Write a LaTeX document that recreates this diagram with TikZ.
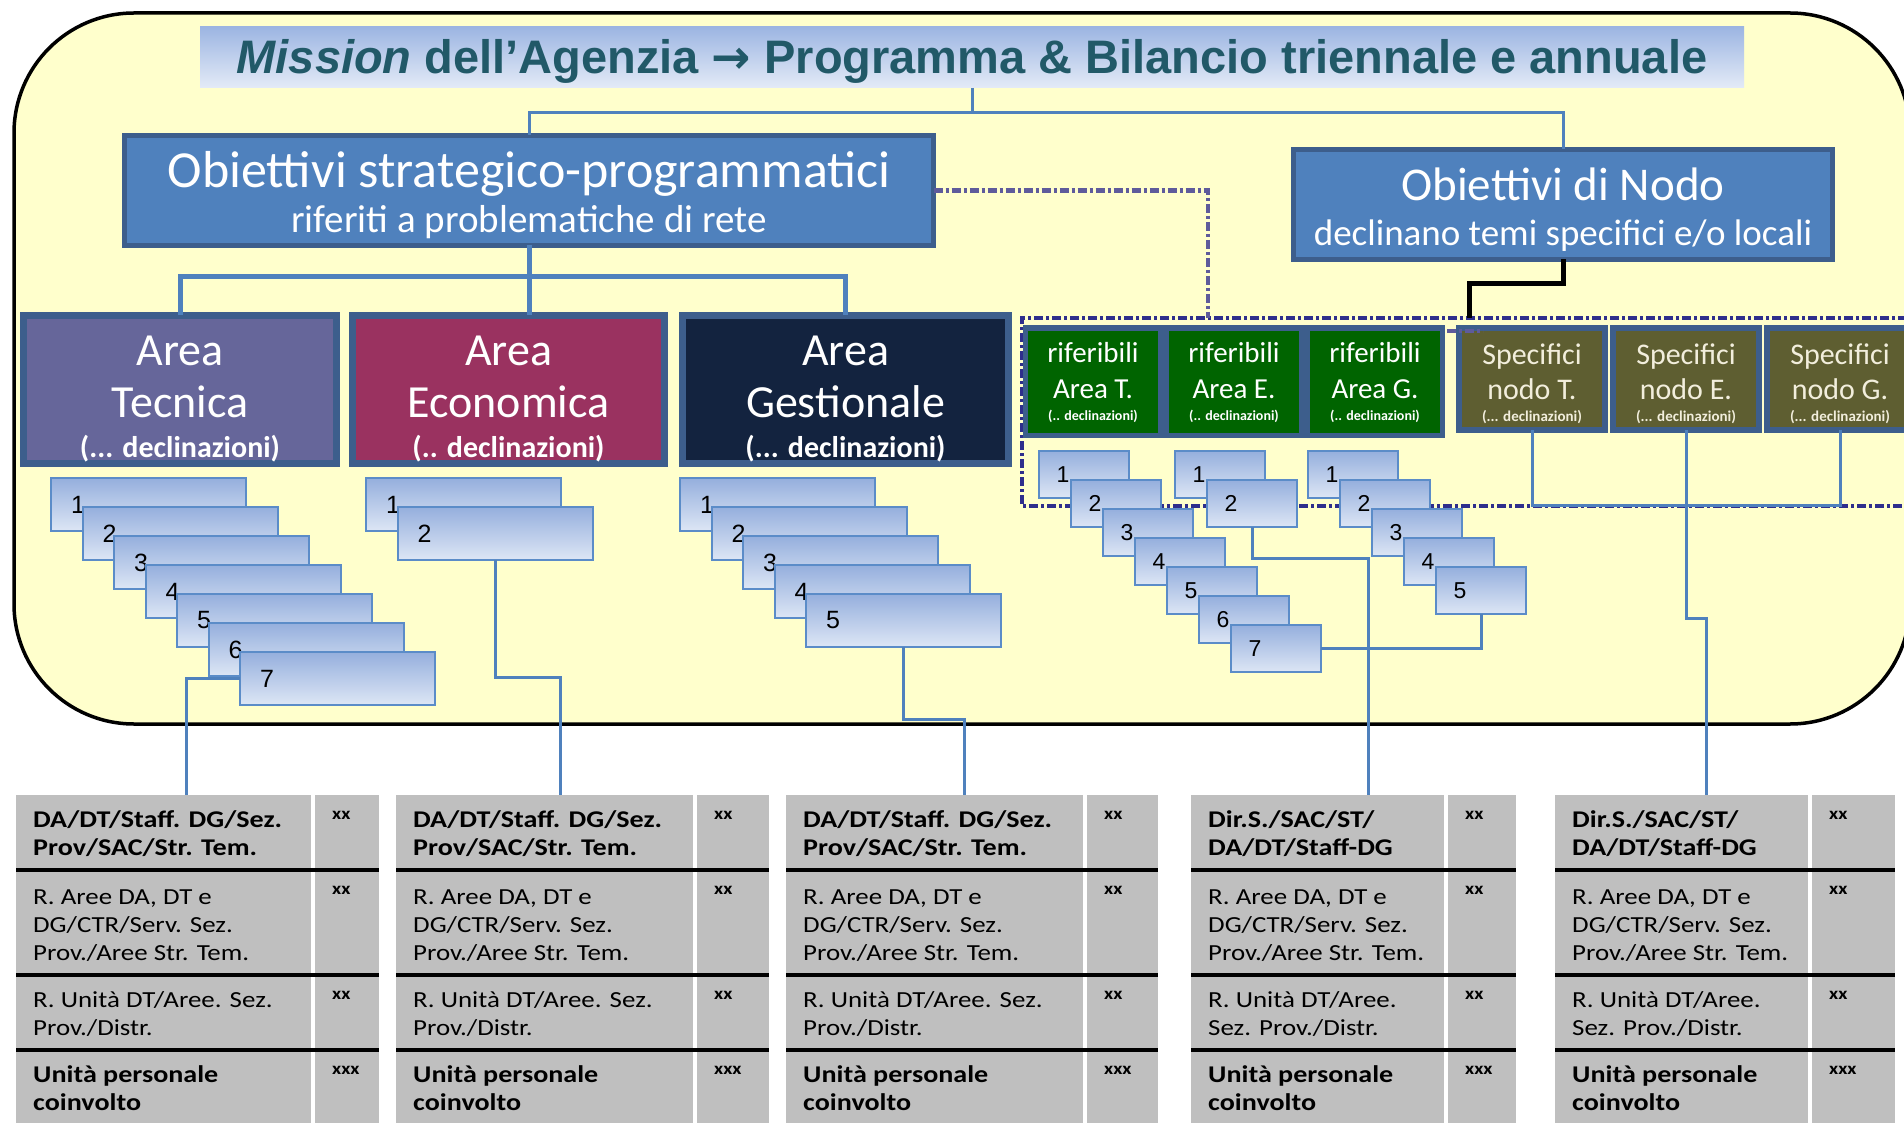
\documentclass[tikz,border=0pt]{standalone}
\usepackage{fontspec}
\setmainfont{Carlito}
\newfontfamily\arialfont{Liberation Sans}
\newfontfamily\arrowfont{DejaVu Sans}
\newfontfamily\tabfont[FakeStretch=1.17]{Carlito}
\usetikzlibrary{positioning,calc}

\definecolor{bgyellow}{HTML}{FFFFCC}
\definecolor{titletop}{HTML}{9CB5E2}
\definecolor{titlebot}{HTML}{E4EBF7}
\definecolor{titleteal}{HTML}{215968}
\definecolor{boxblue}{HTML}{4F81BD}
\definecolor{frameblue}{HTML}{3D5E8C}
\definecolor{linkblue}{HTML}{4F81BD}
\definecolor{tecpurple}{HTML}{66669A}
\definecolor{ecored}{HTML}{9A3260}
\definecolor{gesnavy}{HTML}{13233F}
\definecolor{rifgreen}{HTML}{006400}
\definecolor{specolive}{HTML}{5E5E31}
\definecolor{spectext}{HTML}{F2EEDC}
\definecolor{dotnavy}{HTML}{2E2E8C}
\definecolor{dotgray}{HTML}{5E5B9B}
\definecolor{stacktop}{HTML}{95AFDD}
\definecolor{stackbot}{HTML}{DDE6F5}
\definecolor{stackline}{HTML}{5B8CC8}
\definecolor{cellgray}{HTML}{BFBFBF}

\newcommand{\fsz}[2]{\fontsize{#1}{#2}\selectfont}

% one table of units under the yellow frame
\newcommand{\unittable}[6]{%
  \node[cell,minimum width=#3,minimum height=75,
    label={[celltext,yshift=-60pt,font=\tabfont\bfseries\fsz{24}{28}]north west:{#5}}] (#1r1) at (#2,795) {};
  \node[cell,minimum width=#3,minimum height=105,
    label={[celltext,yshift=-90pt]north west:{R. Aree DA, DT e\\DG/CTR/Serv. Sez.\\Prov./Aree Str. Tem.}}] (#1r2) at (#2,870) {};
  \node[cell,minimum width=#3,minimum height=75,
    label={[celltext,yshift=-60pt]north west:{#6}}] (#1r3) at (#2,975) {};
  \node[cell,minimum width=#3,minimum height=80,
    label={[celltext,yshift=-60pt,font=\tabfont\bfseries\fsz{24}{28}]north west:{Unità personale\\coinvolto}}] (#1r4) at (#2,1050) {};
  \node[cell,minimum width=#4,minimum height=75,label={[xxtext]north west:xx}] (#1x1) at ({#2+#3+4},795) {};
  \node[cell,minimum width=#4,minimum height=105,label={[xxtext]north west:xx}] (#1x2) at ({#2+#3+4},870) {};
  \node[cell,minimum width=#4,minimum height=75,label={[xxtext]north west:xx}] (#1x3) at ({#2+#3+4},975) {};
  \node[cell,minimum width=#4,minimum height=80,label={[xxtext]north west:xxx}] (#1x4) at ({#2+#3+4},1050) {};
  \draw[rowline] (#1r1.south west) -- (#1x1.south east);
  \draw[rowline] (#1r2.south west) -- (#1x2.south east);
  \draw[rowline] (#1r3.south west) -- (#1x3.south east);
}

\begin{document}
\begin{tikzpicture}[x=1pt,y=-1pt,
    bgframe/.style={draw=black,line width=3.5pt,fill=bgyellow,rounded corners=120pt},
    titlebar/.style={anchor=north west,inner sep=0,outer sep=0,top color=titletop,bottom color=titlebot,
        text=titleteal,font=\arialfont\bfseries\fsz{47}{52},text height=34pt,text depth=2pt},
    objbox/.style={anchor=north west,draw=frameblue,line width=5pt,fill=boxblue,text=white,
        align=center,inner sep=0,outer sep=0},
    areabox/.style={anchor=north west,draw=frameblue,line width=7pt,text=white,align=center,
        inner sep=0,outer sep=0,minimum height=148,font=\fsz{46}{52}},
    rifbox/.style={anchor=north west,fill=rifgreen,text=white,align=center,inner sep=0,outer sep=0,
        minimum width=130,minimum height=102,font=\fsz{29}{36}},
    specbox/.style={anchor=north west,draw=frameblue,line width=6pt,fill=specolive,text=spectext,
        align=center,inner sep=0,outer sep=0,minimum width=146,minimum height=102,font=\fsz{30}{35}},
    stack/.style={anchor=north west,draw=stackline,line width=2pt,top color=stacktop,
        bottom color=stackbot,outer sep=0,inner ysep=0,align=left},
    stackbig/.style={stack,minimum width=195,minimum height=53,text width=155pt,inner xsep=20pt,
        font=\arialfont\fsz{25}{30}},
    stacksmall/.style={stack,minimum width=90,minimum height=47,text width=55pt,inner xsep=17.5pt,
        font=\arialfont\fsz{23}{28}},
    cell/.style={fill=cellgray,anchor=north west,inner sep=0,outer sep=0},
    celltext/.style={anchor=base west,xshift=17pt,align=left,inner sep=0,
        font=\tabfont\fsz{23}{28}},
    xxtext/.style={anchor=base west,xshift=17pt,yshift=-24pt,inner sep=0,
        font=\tabfont\bfseries\fsz{17}{20}},
    rowline/.style={line width=3.5pt,black},
    tlink/.style={draw=linkblue,line width=3pt},
    alink/.style={draw=linkblue,line width=5pt},
    slink/.style={draw=linkblue,line width=3pt},
    nodolink/.style={draw=black,line width=5pt},
    dotline/.style={draw=dotnavy,line width=4.5pt,dash pattern=on 9pt off 3pt on 3pt off 3pt},
    dotlink/.style={draw=dotgray,line width=4.5pt,dash pattern=on 9pt off 3pt on 3pt off 3pt},
]
\useasboundingbox (0,0) rectangle (1904,1123);
\draw[bgframe] (14,13) rectangle (1910,724);

\node[titlebar,minimum width=1544,minimum height=61] (mission) at (200,27)
    {{\itshape Mission} dell’Agenzia {\arrowfont\bfseries →} Programma \& Bilancio triennale e annuale};

\node[objbox,minimum width=809,minimum height=110,font=\fsz{52}{45}] (ostrat) at (124.5,135.5)
    {\rule{0pt}{46pt}Obiettivi strategico-programmatici\\{\fsz{39}{45}riferiti a problematiche di rete}};
\node[objbox,minimum width=539,minimum height=110,font=\fsz{47}{45}] (onodo) at (1293.5,149.5)
    {\rule{0pt}{43pt}Obiettivi di Nodo\\{\fsz{37}{45}declinano temi specifici e/o locali}};
    \draw[tlink] (mission.south) -- ++(0,25) -| (ostrat.north);
    \draw[tlink] (mission.south) ++(0,25) -| (onodo.north);

% aree
\node[areabox,fill=tecpurple,minimum width=313] (tec) at (23.5,315.5)
    {\rule{0pt}{48pt}Area\\Tecnica\\[-12pt]{\bfseries\fsz{30}{40}(... declinazioni)}};
\node[areabox,fill=ecored,minimum width=312] (eco) at (352.5,315.5)
    {\rule{0pt}{48pt}Area\\Economica\\[-12pt]{\bfseries\fsz{30}{40}(.. declinazioni)}};
\node[areabox,fill=gesnavy,minimum width=326] (ges) at (682.5,315.5)
    {\rule{0pt}{48pt}Area\\Gestionale\\[-12pt]{\bfseries\fsz{30}{40}(... declinazioni)}};
    \draw[alink] (ostrat.south) -- ++(0,31) -| (tec.north);
    \draw[alink] (ostrat.south) ++(0,31) -| (ges.north);
    \draw[alink] (ostrat.south) -- (ostrat.south |- eco.north);

% dotted frame round the node objectives
\draw[dotline] (1925,318) -- (1022,318) -- (1022,506) -- (1925,506);
\coordinate (dotcorner) at (1208,318);
\coordinate (nodoin) at (1469,318);

\fill[frameblue] (1023,325) rectangle (1445,438);
\node[rifbox] (rif1) at (1028,331) {riferibili\\Area T.\\[-14pt]{\bfseries\fsz{14}{16}(.. declinazioni)}};
\node[rifbox] (rif2) at (1169,331) {riferibili\\Area E.\\[-14pt]{\bfseries\fsz{14}{16}(.. declinazioni)}};
\node[rifbox] (rif3) at (1310,331) {riferibili\\Area G.\\[-14pt]{\bfseries\fsz{14}{16}(.. declinazioni)}};

\node[specbox] (spect) at (1459,328) {\rule{0pt}{31pt}Specifici\\nodo T.\\[-13pt]{\bfseries\fsz{15}{17}(... declinazioni)}};
\node[specbox] (spece) at (1613,328) {\rule{0pt}{31pt}Specifici\\nodo E.\\[-13pt]{\bfseries\fsz{15}{17}(... declinazioni)}};
\node[specbox] (specg) at (1767,328) {\rule{0pt}{31pt}Specifici\\nodo G.\\[-13pt]{\bfseries\fsz{15}{17}(... declinazioni)}};

    \draw[dotlink] (ostrat.east) -| (dotcorner);
    \draw[dotlink] ($(rif3.north east)+(7,0)$) -- ++(36,0);
    \draw[nodolink] (onodo.south) -- ++(0,24) -| (nodoin);

% declinazioni
\foreach \i in {1,...,7}
    \node[stackbig] (tec\i) at ({51+31.5*(\i-1)},{478+29*(\i-1)}) {\i};
\foreach \i in {1,2}
    \node[stackbig] (eco\i) at ({366+31.5*(\i-1)},{478+29*(\i-1)}) {\i};
\foreach \i in {1,...,5}
    \node[stackbig] (ges\i) at ({680+31.5*(\i-1)},{478+29*(\i-1)}) {\i};
\foreach \i in {1,...,7}
    \node[stacksmall] (rt\i) at ({1039+32*(\i-1)},{451+29*(\i-1)}) {\i};
\foreach \i in {1,2}
    \node[stacksmall] (re\i) at ({1175+32*(\i-1)},{451+29*(\i-1)}) {\i};
\foreach \i in {1,...,5}
    \node[stacksmall] (rg\i) at ({1308+32*(\i-1)},{451+29*(\i-1)}) {\i};

% tabelle
\unittable{ta}{16}{295}{64}{DA/DT/Staff. DG/Sez.\\Prov/SAC/Str. Tem.}{R. Unità DT/Aree. Sez.\\Prov./Distr.}
\unittable{tb}{396}{297}{72}{DA/DT/Staff. DG/Sez.\\Prov/SAC/Str. Tem.}{R. Unità DT/Aree. Sez.\\Prov./Distr.}
\unittable{tc}{786}{297}{71}{DA/DT/Staff. DG/Sez.\\Prov/SAC/Str. Tem.}{R. Unità DT/Aree. Sez.\\Prov./Distr.}
\unittable{td}{1191}{253}{68}{Dir.S./SAC/ST/\\DA/DT/Staff-DG}{R. Unità DT/Aree.\\Sez. Prov./Distr.}
\unittable{te}{1555}{253}{83}{Dir.S./SAC/ST/\\DA/DT/Staff-DG}{R. Unità DT/Aree.\\Sez. Prov./Distr.}

    \draw[slink] (tec7.west) -| ($(tar1.north west)+(170,0)$);
    \draw[slink] (eco2.south) -- ++(0,117) -| ($(tbr1.north west)+(164,0)$);
    \draw[slink] (ges5.south) -- ++(0,72) -| ($(tcr1.north west)+(178,0)$);
    \draw[slink] (rt7.east) -| (rg5.south);
    \draw[slink] (re2.south) -- ++(0,31) -| ($(tdr1.north west)+(177,0)$);
    \draw[slink] (spect.south) -- ++(0,75) -| (specg.south);
    \draw[slink] (spece.south) -- ++(0,188) -| ($(ter1.north west)+(151,0)$);
\end{tikzpicture}
\end{document}
